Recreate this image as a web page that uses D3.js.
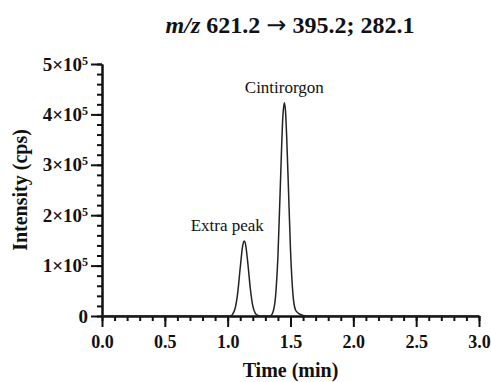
<!DOCTYPE html>
<meta charset="utf-8">
<style>
  body { margin: 0; background: #fff; }
  svg text { font-family: "Liberation Serif", "Times New Roman", serif; fill: #111; }
</style>
<svg id="chart" width="491" height="382"></svg>
<script src="https://cdn.jsdelivr.net/npm/d3@7"></script>
<script>
// chromatogram trace (time in min, intensity in cps)
var times = [0.00, 1.02, 1.04, 1.06, 1.08, 1.10, 1.12, 1.132, 1.14, 1.16, 1.18, 1.20, 1.22, 1.24, 1.26,
             1.34, 1.36, 1.38, 1.40, 1.42, 1.44, 1.451, 1.46, 1.48, 1.50, 1.52, 1.54, 1.56, 1.58, 1.60, 1.63, 3.00];
var intensity = [0, 0, 3800, 15800, 46000, 95700, 140000, 149000, 145000, 106000, 55000, 20000, 5200, 1000, 0,
                 0, 7400, 36000, 119000, 265000, 399000, 423000, 407000, 281000, 131000, 41500, 12000, 6000, 3000, 1000, 0, 0];

var xTicks = [0, 0.5, 1.0, 1.5, 2.0, 2.5, 3.0];
var yTicks = [0, 100000, 200000, 300000, 400000, 500000];
var yTickMant = ["0", "1", "2", "3", "4", "5"];

var peakLabels = ["Extra peak", "Cintirorgon"];
var peakTimes = [1.132, 1.451];
var peakHeights = [149000, 423000];

var svg = d3.select("#chart"),
    margin = {top: 64, right: 12, bottom: 66, left: 102},
    width = 491 - margin.left - margin.right,
    height = 382 - margin.top - margin.bottom,
    g = svg.append("g").attr("transform", "translate(" + margin.left + "," + margin.top + ")");

var x = d3.scaleLinear().domain([0, 3]).range([0, width]);
var y = d3.scaleLinear().domain([0, 500000]).range([height, 0]);

var data = times.map(function(t, i) { return {t: t, v: intensity[i]}; });

// minor ticks
g.append("g")
    .attr("transform", "translate(0," + height + ")")
    .call(d3.axisBottom(x).tickValues(d3.range(0, 31).map(function(i) { return i / 10; }))
      .tickSize(5).tickSizeOuter(0).tickFormat(""));
g.append("g")
    .call(d3.axisLeft(y).tickValues(d3.range(0, 26).map(function(i) { return i * 20000; }))
      .tickSize(5).tickSizeOuter(0).tickFormat(""));

// major ticks
var xAxis = g.append("g")
    .attr("transform", "translate(0," + height + ")")
    .call(d3.axisBottom(x).tickValues(xTicks).tickSize(11).tickSizeOuter(0).tickPadding(8)
      .tickFormat(d3.format(".1f")));
var yAxis = g.append("g")
    .call(d3.axisLeft(y).tickValues(yTicks).tickSize(11).tickSizeOuter(0).tickPadding(3));

svg.selectAll(".domain, .tick line").attr("stroke", "#111").attr("stroke-width", 2);

xAxis.selectAll("text")
    .attr("font-size", 18).attr("font-weight", "bold").attr("fill", "#111");

yAxis.selectAll("text")
    .attr("font-size", 19).attr("font-weight", "bold").attr("fill", "#111")
    .text(null)
    .each(function(d, i) {
      var t = d3.select(this);
      if (i === 0) { t.append("tspan").text("0"); return; }
      t.append("tspan").text(yTickMant[i] + "\u00d710");
      t.append("tspan").attr("font-size", 12).attr("dy", "-0.5em").text("5");
    });

// trace
var line = d3.line()
    .x(function(d) { return x(d.t); })
    .y(function(d) { return y(d.v); })
    .curve(d3.curveMonotoneX);

g.append("path")
    .datum(data)
    .attr("fill", "none")
    .attr("stroke", "#222")
    .attr("stroke-width", 1.5)
    .attr("stroke-linejoin", "round")
    .attr("d", line);

// peak labels
g.selectAll(".peak-label")
    .data(peakLabels)
  .enter().append("text")
    .attr("class", "peak-label")
    .attr("x", function(d, i) { return x(peakTimes[i]) - (i === 0 ? 17 : 0); })
    .attr("y", function(d, i) { return y(peakHeights[i]) - 10; })
    .attr("text-anchor", "middle")
    .attr("font-size", 17)
    .text(function(d) { return d; });

// title
var title = svg.append("text")
    .attr("x", 290).attr("y", 33)
    .attr("text-anchor", "middle")
    .attr("font-size", 24).attr("font-weight", "bold");
title.append("tspan").attr("font-style", "italic").text("m/z");
title.append("tspan").text(" 621.2 ");
title.append("tspan").style("font-family", "'DejaVu Sans', sans-serif").attr("font-weight", "normal").text("\u2192");
title.append("tspan").text(" 395.2; 282.1");

// axis titles
svg.append("text")
    .attr("x", margin.left + x(1.5)).attr("y", 377)
    .attr("text-anchor", "middle")
    .attr("font-size", 20).attr("font-weight", "bold")
    .text("Time (min)");

svg.append("text")
    .attr("transform", "translate(27," + (margin.top + y(250000)) + ") rotate(-90)")
    .attr("text-anchor", "middle")
    .attr("font-size", 20).attr("font-weight", "bold")
    .text("Intensity (cps)");
</script>
